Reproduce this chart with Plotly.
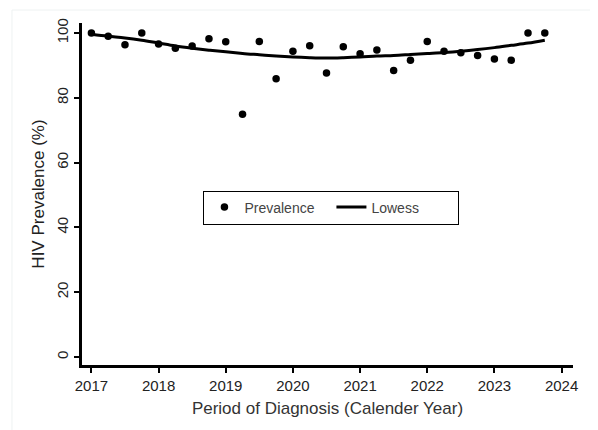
import plotly.graph_objects as go

# Quarterly periods of diagnosis
periods = [2017.0, 2017.25, 2017.5, 2017.75, 2018.0, 2018.25, 2018.5, 2018.75,
           2019.0, 2019.25, 2019.5, 2019.75, 2020.0, 2020.25, 2020.5, 2020.75,
           2021.0, 2021.25, 2021.5, 2021.75, 2022.0, 2022.25, 2022.5, 2022.75,
           2023.0, 2023.25, 2023.5, 2023.75]

prevalence = [100.0, 99.0, 96.4, 100.0, 96.6, 95.3, 96.0, 98.2,
              97.3, 74.9, 97.4, 85.9, 94.4, 96.1, 87.7, 95.8,
              93.6, 94.8, 88.4, 91.6, 97.4, 94.4, 93.9, 93.1,
              92.0, 91.6, 100.0, 100.0]

lowess = [99.6, 99.0, 98.5, 97.8, 96.9, 96.0, 95.3, 94.7,
          94.2, 93.7, 93.3, 92.9, 92.6, 92.4, 92.3, 92.4,
          92.6, 92.9, 93.1, 93.4, 93.7, 94.0, 94.4, 94.9,
          95.5, 96.2, 96.9, 97.8]

x_ticks = [2017, 2018, 2019, 2020, 2021, 2022, 2023, 2024]
y_ticks = [0, 20, 40, 60, 80, 100]

FONT = "Liberation Sans, Arial, sans-serif"

fig = go.Figure()
fig.add_trace(go.Scatter(
    x=periods, y=prevalence, mode="markers", name="Prevalence",
    marker=dict(color="black", size=7.5),
))
fig.add_trace(go.Scatter(
    x=periods, y=lowess, mode="lines", name="Lowess",
    line=dict(color="black", width=3, shape="spline", smoothing=1.0),
))

fig.update_layout(
    width=590, height=422,
    margin=dict(l=74, r=25, t=15, b=65, autoexpand=False),
    paper_bgcolor="white", plot_bgcolor="white",
    font=dict(family=FONT, size=15, color="#222"),
    showlegend=True,
    legend=dict(
        orientation="h", x=0.508, y=0.4605, xanchor="center", yanchor="middle",
        bordercolor="black", borderwidth=1, bgcolor="white",
        font=dict(size=14, color="#444"), itemwidth=30,
        entrywidth=82, entrywidthmode="pixels",
    ),
    xaxis=dict(
        range=[2016.86, 2024.17], tickvals=x_ticks,
        ticktext=[str(t) for t in x_ticks],
        showgrid=False, zeroline=False, automargin=False,
        showline=True, linecolor="black", linewidth=3,
        ticks="outside", ticklen=5, tickwidth=1.5, tickcolor="black",
        tickfont=dict(size=15, color="#222"),
        title=dict(text="Period of Diagnosis (Calender Year)",
                   font=dict(size=17, color="#333"), standoff=10),
    ),
    yaxis=dict(
        range=[-2.47, 103.1], tickvals=y_ticks,
        ticktext=[str(t) for t in y_ticks],
        showgrid=False, zeroline=False, automargin=False,
        showline=True, linecolor="black", linewidth=3,
        ticks="outside", ticklen=5, tickwidth=1.5, tickcolor="black",
        tickangle=-90,
        tickfont=dict(size=15, color="#222"),
        title=dict(text="HIV Prevalence (%)",
                   font=dict(size=17, color="#222"), standoff=6),
    ),
    shapes=[
        dict(type="rect", xref="paper", yref="paper",
             x0=-0.1426, x1=1.2, y0=-0.3, y1=1.038,
             line=dict(color="#eef2f2", width=1), layer="below"),
    ],
)

fig.write_html("out.html")
